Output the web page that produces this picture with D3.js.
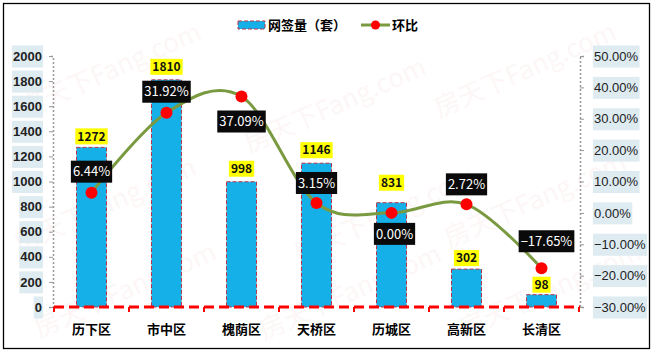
<!DOCTYPE html>
<html>
<head>
<meta charset="utf-8">
<script src="https://cdn.jsdelivr.net/npm/d3@7"></script>
<style>
  body { margin: 0; background: #fff; }
  svg { display: block; font-family: "Microsoft YaHei", "Noto Sans CJK SC", sans-serif; }
</style>
</head>
<body>
<div id="chart"></div>
<script>
// data
var districts = ["历下区", "市中区", "槐荫区", "天桥区", "历城区", "高新区", "长清区"];
var deals = [1272, 1810, 998, 1146, 831, 302, 98];
var change = [0.0644, 0.3192, 0.3709, 0.0315, 0.0000, 0.0272, -0.1765];
var leftTicks = [0, 200, 400, 600, 800, 1000, 1200, 1400, 1600, 1800, 2000];
var rightTicks = [-0.3, -0.2, -0.1, 0, 0.1, 0.2, 0.3, 0.4, 0.5];

// hand placed label offsets (like the excel original)
var dealLabelDy = [-11, -13, -13, -13, -20, -11, -10];
var changeLabelDy = [-21, -21, 25, -20, 21, -20, -27];
var changeLabelDx = [0, 0, 0, 0, 3, 0, 5];

(function() {
  var width = 653, height = 352;
  var pLeft = 54, pRight = 579, pTop = 56, pBottom = 307;

  var svg = d3.select('#chart').append('svg')
    .attr('width', width)
    .attr('height', height);

  svg.append('rect')
    .attr('x', 3.5).attr('y', 3.5)
    .attr('width', 646).attr('height', 345)
    .attr('fill', '#fff')
    .attr('stroke', '#000')
    .attr('stroke-width', 1.3);

  // faint watermark
  var marks = [[110, 70], [335, 105], [525, 70], [105, 205], [385, 215], [535, 200], [125, 290], [350, 292], [550, 290]];
  svg.append('g').selectAll('text')
    .data(marks)
    .join('text')
    .attr('transform', function(d) { return 'translate(' + d[0] + ',' + d[1] + ') rotate(-24)'; })
    .attr('text-anchor', 'middle')
    .attr('dy', 9)
    .style('font-size', '26px')
    .style('fill', '#e89a9a')
    .style('opacity', 0.08)
    .text('房天下Fang.com');

  var x = d3.scaleBand()
    .domain(districts)
    .range([pLeft, pRight])
    .paddingInner(0.6)
    .paddingOuter(0.3);

  var yL = d3.scaleLinear().domain([0, 2000]).range([pBottom, pTop]);
  var yR = d3.scaleLinear().domain([-0.3, 0.5]).range([pBottom, pTop]);

  // left axis
  var axL = svg.append('g')
    .attr('transform', 'translate(' + (pLeft - 1) + ',0)')
    .call(d3.axisLeft(yL).tickValues(leftTicks).tickSize(4).tickPadding(7).tickFormat(d3.format('d')));
  axL.select('.domain').attr('stroke', '#999').attr('stroke-dasharray', '2,2').attr('stroke-width', 1.5);
  axL.selectAll('.tick line').attr('stroke', '#999');
  axL.selectAll('.tick text')
    .style('font-size', '13px')
    .style('font-weight', 'bold')
    .attr('fill', '#222');

  // right axis
  var axR = svg.append('g')
    .attr('transform', 'translate(' + (pRight + 1) + ',0)')
    .call(d3.axisRight(yR).tickValues(rightTicks).tickSize(4).tickPadding(10).tickFormat(d3.format('.2%')));
  axR.select('.domain').attr('stroke', '#999').attr('stroke-dasharray', '2,2').attr('stroke-width', 1.5);
  axR.selectAll('.tick line').attr('stroke', '#999');
  axR.selectAll('.tick text')
    .style('font-size', '13px')
    .attr('fill', '#222');

  // light blue boxes behind tick labels
  [axL, axR].forEach(function(ax) {
    ax.selectAll('.tick').each(function() {
      var t = d3.select(this).select('text');
      var b = t.node().getBBox();
      d3.select(this).insert('rect', 'text')
        .attr('x', b.x - 1).attr('y', -11)
        .attr('width', b.width + 2).attr('height', 22)
        .attr('fill', '#deebf1');
    });
  });

  // bars
  svg.append('g').selectAll('rect')
    .data(deals)
    .join('rect')
    .attr('x', function(d, i) { return x(districts[i]); })
    .attr('y', function(d) { return yL(d); })
    .attr('width', x.bandwidth())
    .attr('height', function(d) { return pBottom - yL(d); })
    .attr('fill', '#15b0e8')
    .attr('stroke', '#b5344a')
    .attr('stroke-dasharray', '4,2')
    .attr('stroke-width', 1);

  // bottom axis, red dashes
  svg.append('line')
    .attr('x1', pLeft).attr('x2', pRight + 1)
    .attr('y1', pBottom).attr('y2', pBottom)
    .attr('stroke', '#ff0000')
    .attr('stroke-width', 3)
    .attr('stroke-dasharray', '10,5');

  svg.append('g').selectAll('line')
    .data(d3.range(districts.length + 1))
    .join('line')
    .attr('x1', function(i) { return pLeft + i * x.step(); })
    .attr('x2', function(i) { return pLeft + i * x.step(); })
    .attr('y1', pBottom).attr('y2', pBottom + 5)
    .attr('stroke', '#ff0000')
    .attr('stroke-width', 2);

  svg.append('g').selectAll('text')
    .data(districts)
    .join('text')
    .attr('x', function(d) { return x(d) + x.bandwidth() / 2; })
    .attr('y', 334)
    .attr('text-anchor', 'middle')
    .style('font-size', '13px')
    .style('font-weight', 'bold')
    .text(function(d) { return d; });

  // line
  var cx = function(i) { return x(districts[i]) + x.bandwidth() / 2; };
  var line = d3.line()
    .x(function(d, i) { return cx(i); })
    .y(function(d) { return yR(d); })
    .curve(d3.curveCatmullRom.alpha(0));

  svg.append('path')
    .datum(change)
    .attr('d', line)
    .attr('fill', 'none')
    .attr('stroke', '#7a9a42')
    .attr('stroke-width', 3);

  svg.append('g').selectAll('circle')
    .data(change)
    .join('circle')
    .attr('cx', function(d, i) { return cx(i); })
    .attr('cy', function(d) { return yR(d); })
    .attr('r', 6)
    .attr('fill', '#ff0000');

  // label helper: text with a box behind it
  function boxLabel(g, px, py, str, bg, fg, size, weight, h) {
    var t = g.append('text')
      .attr('x', px).attr('y', py)
      .attr('text-anchor', 'middle')
      .attr('dy', '0.36em')
      .style('font-size', size)
      .style('font-weight', weight)
      .attr('fill', fg)
      .text(str);
    var b = t.node().getBBox();
    g.insert('rect', function() { return t.node(); })
      .attr('x', b.x - 2).attr('y', py - h / 2)
      .attr('width', b.width + 4).attr('height', h)
      .attr('fill', bg);
  }

  var labels = svg.append('g');
  deals.forEach(function(d, i) {
    boxLabel(labels, cx(i), yL(d) + dealLabelDy[i], d, '#ffff00', '#111', '12px', 'bold', 16);
  });
  change.forEach(function(d, i) {
    boxLabel(labels, cx(i) + changeLabelDx[i], yR(d) + changeLabelDy[i], d3.format('.2%')(d), '#0a0a0a', '#fff', '13px', 'normal', 22);
  });

  // legend
  var lg = svg.append('g');
  lg.append('rect')
    .attr('x', 238).attr('y', 21)
    .attr('width', 27).attr('height', 8)
    .attr('fill', '#15b0e8')
    .attr('stroke', '#b5344a')
    .attr('stroke-dasharray', '4,2');
  lg.append('text')
    .attr('x', 268).attr('y', 25).attr('dy', '0.36em')
    .style('font-size', '13px').style('font-weight', 'bold')
    .text('网签量（套）');
  lg.append('line')
    .attr('x1', 361).attr('x2', 390).attr('y1', 25).attr('y2', 25)
    .attr('stroke', '#7a9a42').attr('stroke-width', 3);
  lg.append('circle')
    .attr('cx', 375.5).attr('cy', 25).attr('r', 4.5)
    .attr('fill', '#ff0000');
  lg.append('text')
    .attr('x', 392).attr('y', 25).attr('dy', '0.36em')
    .style('font-size', '13px').style('font-weight', 'bold')
    .text('环比');
})();
</script>
</body>
</html>
